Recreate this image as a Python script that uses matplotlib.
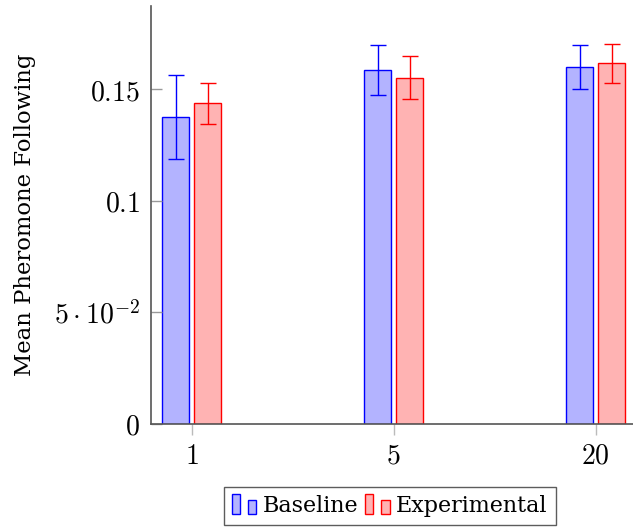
import matplotlib
matplotlib.use("Agg")
import matplotlib.pyplot as plt
from matplotlib.patches import Rectangle
from matplotlib.legend_handler import HandlerBase
import numpy as np

# ---- data ----
categories = ["1", "5", "20"]
baseline = [0.1374, 0.1585, 0.1597]
baseline_err = [0.0189, 0.0111, 0.0099]
experimental = [0.1436, 0.1551, 0.1615]
experimental_err = [0.0091, 0.0097, 0.0088]
ytick_values = [0.0, 0.05, 0.10, 0.15]
ytick_labels = [r"$0$", r"$5\cdot10^{-2}$", r"$0.1$", r"$0.15$"]
ylabel = "Mean Pheromone Following"
series_names = ["Baseline", "Experimental"]

plt.rcParams["mathtext.fontset"] = "cm"
text_font = "DejaVu Serif"

W, H = 633, 531
fig = plt.figure(figsize=(W / 100, H / 100), dpi=100)
left_px, right_px, bottom_px, top_px = 151.3, 633.0, 423.5, 5.7
ax = fig.add_axes([left_px / W, 1 - bottom_px / H,
                   (right_px - left_px) / W, (bottom_px - top_px) / H])

x = np.arange(len(categories))
off = 0.079
bw = 0.1337
blue_fill, red_fill = "#b3b3ff", "#ffb3b3"
ekw = dict(capsize=5.5, capthick=1.0, elinewidth=1.0)
b1 = ax.bar(x - off, baseline, bw, yerr=baseline_err, color=blue_fill,
            edgecolor="blue", linewidth=1.0,
            error_kw=dict(ecolor="blue", **ekw), label=series_names[0])
b2 = ax.bar(x + off, experimental, bw, yerr=experimental_err, color=red_fill,
            edgecolor="red", linewidth=1.0,
            error_kw=dict(ecolor="red", **ekw), label=series_names[1])

ax.set_xlim(-0.2, (right_px - 191.7) / 202.0)
ax.set_ylim(0, (bottom_px - top_px) / 2230.0)

for s in ["top", "right"]:
    ax.spines[s].set_visible(False)
for s in ["left", "bottom"]:
    ax.spines[s].set_color("#555555")
    ax.spines[s].set_linewidth(1.2)

ax.set_xticks(x)
ax.set_xticklabels([rf"${c}$" for c in categories])
ax.set_yticks(ytick_values)
ax.set_yticklabels(ytick_labels)
ax.tick_params(axis="y", direction="in", length=8, width=1.0, color="#999999",
               labelsize=20, pad=8)
ax.tick_params(axis="x", direction="out", length=8, width=1.0, color="#bbbbbb",
               labelsize=20, pad=5)

ax.set_ylabel(ylabel, fontsize=16.4, family=text_font)
ax.yaxis.set_label_coords((36 - left_px) / (right_px - left_px), 0.5)


class TwoBarHandler(HandlerBase):
    def create_artists(self, legend, orig_handle, xdescent, ydescent,
                       width, height, fontsize, trans):
        fc = orig_handle.get_facecolor()
        ec = orig_handle.get_edgecolor()
        bwid = width / 3.0
        r1 = Rectangle((-xdescent, -ydescent), bwid, height, facecolor=fc,
                       edgecolor=ec, linewidth=1.0, transform=trans)
        r2 = Rectangle((-xdescent + 2 * bwid, -ydescent), bwid, height * 0.7,
                       facecolor=fc, edgecolor=ec, linewidth=1.0, transform=trans)
        return [r1, r2]


h1 = b1.patches[0]
h2 = b2.patches[0]
leg = fig.legend([h1, h2], series_names, loc="upper left",
                 bbox_to_anchor=(224 / W, 1 - 486.7 / H), borderaxespad=0,
                 ncol=2, frameon=True, fancybox=False,
                 prop={"family": text_font, "size": 16},
                 handler_map={Rectangle: TwoBarHandler()},
                 handlelength=1.1, handleheight=1.0, handletextpad=0.3,
                 columnspacing=0.3, borderpad=0.35)
leg.get_frame().set_edgecolor("#333333")
leg.get_frame().set_linewidth(1.0)

fig.savefig("out.png", dpi=100)
